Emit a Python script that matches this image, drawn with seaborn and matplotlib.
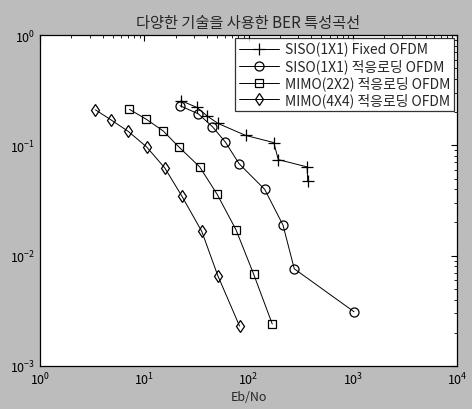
import matplotlib
matplotlib.use('Agg')
import matplotlib.pyplot as plt
import seaborn as sns

# Eb/No values and BER
siso_fixed_x = [22.5, 32, 40, 51, 94, 175, 193, 365, 370]
siso_fixed_y = [0.254, 0.221, 0.185, 0.158, 0.123, 0.106, 0.0743, 0.0638, 0.0474]

siso_adapt_x = [22, 33, 45, 60, 81, 143, 214, 275, 1030]
siso_adapt_y = [0.229, 0.193, 0.148, 0.107, 0.0684, 0.0399, 0.019, 0.0076, 0.0031]

mimo2_x = [7.2, 10.4, 15.2, 21.4, 34, 50, 76, 112, 169]
mimo2_y = [0.212, 0.173, 0.135, 0.097, 0.0638, 0.036, 0.0171, 0.0068, 0.0024]

mimo4_x = [3.4, 4.8, 7.0, 10.5, 15.7, 22.8, 35.6, 50.7, 82]
mimo4_y = [0.21, 0.17, 0.134, 0.097, 0.0625, 0.035, 0.0166, 0.0066, 0.0023]

labels = [
    'SISO(1X1) Fixed OFDM',
    'SISO(1X1) 적응로딩 OFDM',
    'MIMO(2X2) 적응로딩 OFDM',
    'MIMO(4X4) 적응로딩 OFDM',
]

sns.set_style('white')
plt.rcParams['font.family'] = ['Noto Sans CJK KR', 'DejaVu Sans']
plt.rcParams['axes.unicode_minus'] = False

fig = plt.figure(figsize=(4.72, 4.10), dpi=100, facecolor='#bcbcbc')
ax = fig.add_axes([0.085, 0.105, 0.883, 0.807])
ax.set_facecolor('white')

series = [
    (siso_fixed_x, siso_fixed_y, '+', 8),
    (siso_adapt_x, siso_adapt_y, 'o', 6.5),
    (mimo2_x, mimo2_y, 's', 6),
    (mimo4_x, mimo4_y, 'd', 6),
]
for (xs, ys, mk, ms), lab in zip(series, labels):
    sns.lineplot(
        x=xs, y=ys, ax=ax, sort=False, color='black', linewidth=0.7,
        marker=mk, markersize=ms, markerfacecolor='none',
        markeredgecolor='black', markeredgewidth=0.9, label=lab,
    )

ax.set_xscale('log')
ax.set_yscale('log')
ax.set_xlim(1, 1e4)
ax.set_ylim(1e-3, 1)

for s in ax.spines.values():
    s.set_color('black')
    s.set_linewidth(0.9)
ax.tick_params(which='both', direction='in', top=True, right=True,
               colors='black', labelsize=9)
ax.tick_params(which='major', length=4)
ax.tick_params(which='minor', length=2)

ax.set_title('다양한 기술을 사용한 BER 특성곡선', fontsize=11, pad=6)
ax.set_xlabel('Eb/No', fontsize=9, labelpad=2)

leg = ax.legend(loc='upper right', fontsize=10, numpoints=1, frameon=True,
                fancybox=False, borderaxespad=0.2, handlelength=2.9,
                handletextpad=0.4, labelspacing=0.15, borderpad=0.3)
leg.get_frame().set_edgecolor('black')
leg.get_frame().set_linewidth(0.9)

fig.savefig('out.png', dpi=100, facecolor=fig.get_facecolor())
